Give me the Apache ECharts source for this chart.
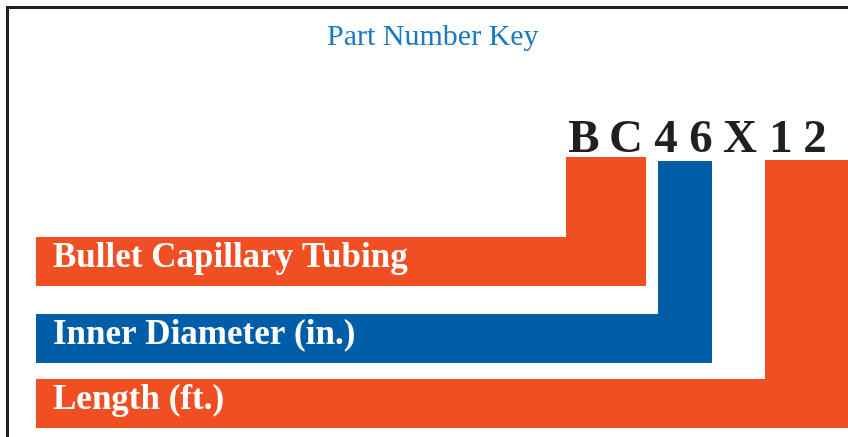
<!DOCTYPE html>
<html>
<head>
<meta charset="utf-8">
<script src="https://cdn.jsdelivr.net/npm/echarts@6/dist/echarts.min.js"></script>
<style>
  html, body { margin: 0; padding: 0; background: #fff; }
  #main { width: 848px; height: 437px; }
</style>
</head>
<body>
<div id="main"></div>
<script>
// part number characters and where each sits along the key's x scale
var codeChars = ["B", "C", "4", "6", "X", "1", "2"];
var codeX = [584, 626, 666, 701, 740, 781, 815];
var codeY = 140;

// one L-shaped segment per part of the number
var segLabels = ["Bullet Capillary Tubing", "Inner Diameter (in.)", "Length (ft.)"];
var segColStart = [566, 658, 765];
var segColEnd = [646, 712, 848];
var segColTop = [157, 161, 160];
var segRowTop = [237, 314, 379];
var segRowBottom = [286, 363, 428];
var rowStart = 36;

var segColors = ["#f04e23", "#005ea8", "#f04e23"];

var chart = echarts.init(document.getElementById("main"));

var option = {
  backgroundColor: "#fff",
  animation: false,
  title: {
    text: "Part Number Key",
    left: 327,
    top: 22,
    padding: 0,
    textStyle: {
      fontFamily: "Liberation Serif",
      fontWeight: "normal",
      fontSize: 30,
      color: "#1a7abf"
    }
  },
  grid: { left: 0, right: 0, top: 0, bottom: 0 },
  xAxis: { type: "value", min: 0, max: 848, show: false },
  yAxis: { type: "value", min: 0, max: 437, inverse: true, show: false },
  graphic: [
    {
      // frame
      type: "polyline",
      shape: { points: [[7.5, 437], [7.5, 7.5], [848, 7.5]] },
      style: { stroke: "#231f20", lineWidth: 3, fill: null }
    }
  ],
  series: [
    {
      type: "custom",
      data: segLabels.map(function (s, i) { return [i]; }),
      renderItem: function (params, api) {
        var i = api.value(0);
        var p = function (x, y) { return api.coord([x, y]); };
        var pts = [
          p(rowStart, segRowTop[i]),
          p(segColStart[i], segRowTop[i]),
          p(segColStart[i], segColTop[i]),
          p(segColEnd[i], segColTop[i]),
          p(segColEnd[i], segRowBottom[i]),
          p(rowStart, segRowBottom[i])
        ];
        var mid = p(rowStart, (segRowTop[i] + segRowBottom[i]) / 2);
        return {
          type: "group",
          children: [
            {
              type: "polygon",
              shape: { points: pts },
              style: { fill: segColors[i] }
            },
            {
              type: "text",
              style: {
                text: segLabels[i],
                x: mid[0] + 17,
                y: mid[1] - 4,
                fill: "#fff",
                font: 'bold 35px "Liberation Serif"',
                textAlign: "left",
                textVerticalAlign: "middle"
              }
            }
          ]
        };
      }
    },
    {
      type: "custom",
      data: codeChars.map(function (c, i) { return [codeX[i], codeY]; }),
      renderItem: function (params, api) {
        var pt = api.coord([api.value(0), api.value(1)]);
        return {
          type: "text",
          style: {
            text: codeChars[params.dataIndex],
            x: pt[0],
            y: pt[1],
            fill: "#231f20",
            font: 'bold 47px "Liberation Serif"',
            textAlign: "center",
            textVerticalAlign: "middle"
          }
        };
      }
    }
  ]
};

chart.setOption(option);
</script>
</body>
</html>
